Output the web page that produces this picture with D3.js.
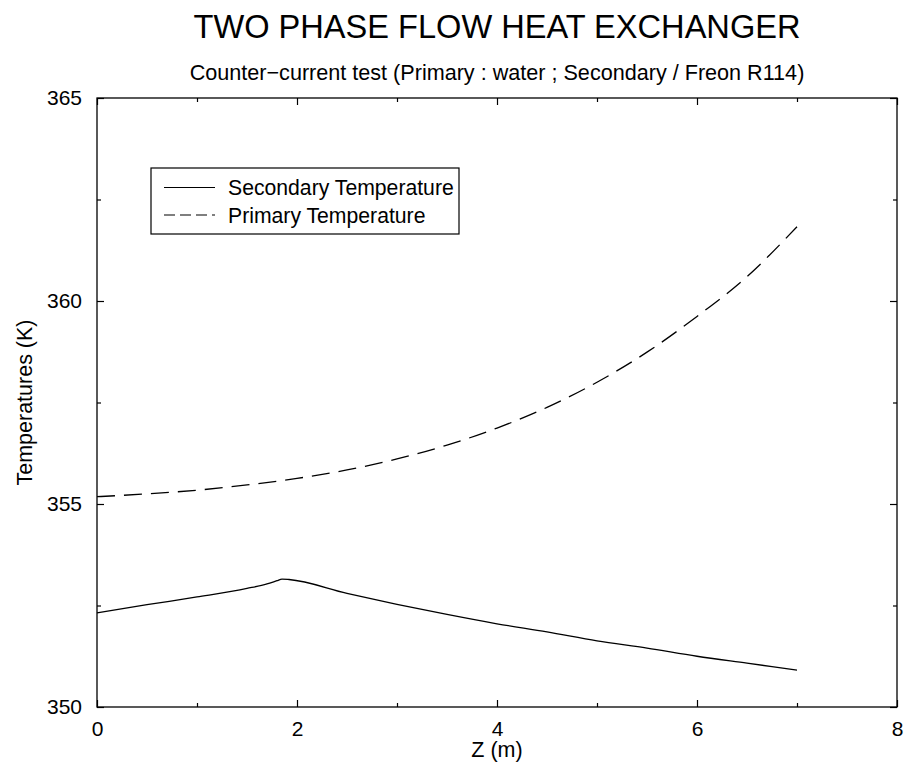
<!DOCTYPE html>
<html>
<head>
<meta charset="utf-8">
<script src="https://cdn.jsdelivr.net/npm/d3@7"></script>
<style>
  html, body { margin: 0; padding: 0; background: #fff; }
  svg { display: block; font-family: "Liberation Sans", Arial, Helvetica, sans-serif; }
</style>
</head>
<body>
<svg id="chart" width="907" height="771"></svg>
<script>
// ---- data ----
const titleText = "TWO PHASE FLOW HEAT EXCHANGER";
const subtitleText = "Counter\u2212current test (Primary : water ; Secondary / Freon R114)";
const xLabel = "Z (m)";
const yLabel = "Temperatures (K)";
const seriesNames = ["Secondary Temperature", "Primary Temperature"];

const zSecondary = [0, 0.5, 1.0, 1.5, 1.7, 1.8, 1.85, 1.92, 2.5, 3.0, 3.5, 4.0, 4.5, 5.0, 5.5, 6.0, 6.5, 7.0];
const tSecondary = [352.32, 352.52, 352.71, 352.92, 353.03, 353.11, 353.15, 353.14, 352.80, 352.53, 352.28, 352.05, 351.85, 351.63, 351.45, 351.25, 351.08, 350.91];

const zPrimary = [0, 0.5, 1.0, 1.5, 2.0, 2.5, 3.0, 3.5, 4.0, 4.5, 5.0, 5.5, 6.0, 6.5, 7.0];
const tPrimary = [355.18, 355.25, 355.34, 355.47, 355.63, 355.84, 356.11, 356.45, 356.87, 357.38, 358.00, 358.74, 359.62, 360.60, 361.83];

const xTicks = [0, 2, 4, 6, 8];
const xMinorTicks = [1, 3, 5, 7];
const yTicks = [350, 355, 360, 365];
const yMinorTicks = [352.5, 357.5, 362.5];

// ---- layout ----
const svg = d3.select("#chart");
const L = 97, R = 897, T = 98, B = 707;
const x = d3.scaleLinear().domain([0, 8]).range([L, R]);
const y = d3.scaleLinear().domain([350, 365]).range([B, T]);

// titles
svg.append("text").attr("x", 497).attr("y", 38).attr("text-anchor", "middle")
  .attr("font-size", 32.6).text(titleText);
svg.append("text").attr("x", 497).attr("y", 80).attr("text-anchor", "middle")
  .attr("font-size", 21.6).text(subtitleText);

// frame
svg.append("rect").attr("x", L).attr("y", T).attr("width", R - L).attr("height", B - T)
  .attr("fill", "none").attr("stroke", "#000").attr("stroke-width", 1.3);

// axes with inward ticks
function styleAxis(g) {
  g.select(".domain").remove();
  g.selectAll("line").attr("stroke", "#000").attr("stroke-width", 1.2);
  g.selectAll("text").attr("font-size", 21).attr("fill", "#000")
    .attr("font-family", "'Liberation Sans', Arial, sans-serif");
}
const major = 7, minor = 4;
// bottom
svg.append("g").attr("transform", `translate(0,${B})`)
  .call(d3.axisBottom(x).tickValues(xTicks).tickSize(-major).tickPadding(major + 7).tickFormat(d3.format("d")))
  .call(styleAxis);
svg.append("g").attr("transform", `translate(0,${B})`)
  .call(d3.axisBottom(x).tickValues(xMinorTicks).tickSize(-minor).tickFormat(""))
  .call(styleAxis);
// top
svg.append("g").attr("transform", `translate(0,${T})`)
  .call(d3.axisTop(x).tickValues(xTicks).tickSize(-major).tickFormat(""))
  .call(styleAxis);
svg.append("g").attr("transform", `translate(0,${T})`)
  .call(d3.axisTop(x).tickValues(xMinorTicks).tickSize(-minor).tickFormat(""))
  .call(styleAxis);
// left
svg.append("g").attr("transform", `translate(${L},0)`)
  .call(d3.axisLeft(y).tickValues(yTicks).tickSize(-major).tickPadding(major + 8).tickFormat(d3.format("d")))
  .call(styleAxis);
svg.append("g").attr("transform", `translate(${L},0)`)
  .call(d3.axisLeft(y).tickValues(yMinorTicks).tickSize(-minor).tickFormat(""))
  .call(styleAxis);
// right
svg.append("g").attr("transform", `translate(${R},0)`)
  .call(d3.axisRight(y).tickValues(yTicks).tickSize(-major).tickFormat(""))
  .call(styleAxis);
svg.append("g").attr("transform", `translate(${R},0)`)
  .call(d3.axisRight(y).tickValues(yMinorTicks).tickSize(-minor).tickFormat(""))
  .call(styleAxis);

// axis labels
svg.append("text").attr("x", x(4)).attr("y", 757).attr("text-anchor", "middle")
  .attr("font-size", 21.5).text(xLabel);
svg.append("text").attr("transform", `translate(32,${y(357.5)}) rotate(-90)`)
  .attr("text-anchor", "middle").attr("font-size", 21.5).text(yLabel);

// lines
const secData = zSecondary.map((z, i) => [z, tSecondary[i]]);
const priData = zPrimary.map((z, i) => [z, tPrimary[i]]);
const lineSec = d3.line().x(d => x(d[0])).y(d => y(d[1])).curve(d3.curveMonotoneX);
const linePri = d3.line().x(d => x(d[0])).y(d => y(d[1])).curve(d3.curveMonotoneX);

svg.append("path").datum(secData).attr("d", lineSec)
  .attr("fill", "none").attr("stroke", "#000").attr("stroke-width", 1.3);
svg.append("path").datum(priData).attr("d", linePri)
  .attr("fill", "none").attr("stroke", "#000").attr("stroke-width", 1.3)
  .attr("stroke-dasharray", "18,9");

// legend
const lg = svg.append("g");
lg.append("rect").attr("x", 151).attr("y", 168).attr("width", 308).attr("height", 66)
  .attr("fill", "#fff").attr("stroke", "#000").attr("stroke-width", 1.2);
const legendRows = [
  { name: seriesNames[0], dash: null, ly: 187.5, ty: 195 },
  { name: seriesNames[1], dash: "11,5", ly: 215, ty: 222.5 }
];
legendRows.forEach(r => {
  const ln = lg.append("line").attr("x1", 164).attr("x2", 215).attr("y1", r.ly).attr("y2", r.ly)
    .attr("stroke", "#000").attr("stroke-width", 1.2);
  if (r.dash) ln.attr("stroke-dasharray", r.dash);
  lg.append("text").attr("x", 228).attr("y", r.ty).attr("font-size", 21.2).text(r.name);
});
</script>
</body>
</html>
